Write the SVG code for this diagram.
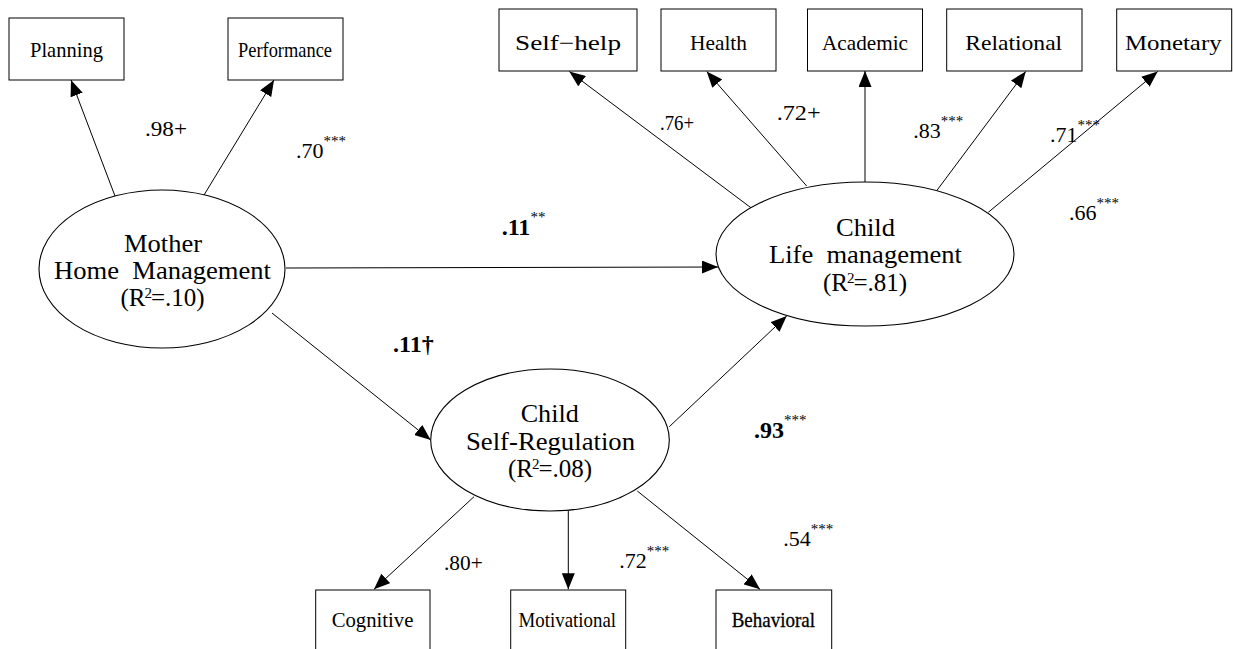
<svg xmlns="http://www.w3.org/2000/svg" width="1233" height="649" viewBox="0 0 1233 649" font-family="'Liberation Serif', 'Times New Roman', serif">
<style>
text{font-family:"Liberation Serif","Times New Roman",serif;fill:#000}
.box{fill:#fff;stroke:#000;stroke-width:1}
.ell{fill:#fff;stroke:#000;stroke-width:1.1}
.bl{font-size:21px;text-anchor:middle}
.el{font-size:25px;text-anchor:middle}
.co{font-size:22px}
.b{font-weight:bold;font-size:24px}
.st{font-size:15px;font-weight:normal}
.conn line{stroke:#000;stroke-width:1;marker-end:url(#ah)}
</style>
<defs>
<marker id="ah" markerUnits="userSpaceOnUse" markerWidth="16" markerHeight="13" refX="16" refY="6.5" orient="auto">
<path d="M0,0 L16,6.5 L0,13 z" fill="#000"/>
</marker>
</defs>
<rect width="1233" height="649" fill="#fff"/>
<g id="connectors" class="conn">
<line x1="115" y1="196" x2="71" y2="80"/>
<line x1="204" y1="195" x2="274" y2="80"/>
<line x1="751.7" y1="208.3" x2="569.3" y2="71.5"/>
<line x1="806.7" y1="186" x2="706.7" y2="71.5"/>
<line x1="865" y1="182" x2="865" y2="71"/>
<line x1="936.7" y1="190.7" x2="1025.7" y2="71.5"/>
<line x1="988.3" y1="212.3" x2="1157.7" y2="71.5"/>
<line x1="286" y1="268" x2="718" y2="267"/>
<line x1="272" y1="313" x2="430.7" y2="440"/>
<line x1="669.3" y1="426.7" x2="786.7" y2="316"/>
<line x1="474" y1="496.7" x2="374" y2="589.3"/>
<line x1="568.3" y1="510.7" x2="568.3" y2="589.3"/>
<line x1="637.3" y1="491" x2="760" y2="589.3"/>
</g>
<g id="planning"><rect class="box" x="9" y="18" width="115" height="62"/><text class="bl" x="66.5" y="57" font-size="22" textLength="73" lengthAdjust="spacingAndGlyphs">Planning</text></g>
<g id="performance"><rect class="box" x="228" y="18" width="115" height="62"/><text class="bl" x="285" y="57" font-size="20" textLength="94" lengthAdjust="spacingAndGlyphs">Performance</text></g>
<g id="selfhelp"><rect class="box" x="499" y="9" width="138" height="62"/><text class="bl" x="568" y="50" font-size="24" textLength="106" lengthAdjust="spacingAndGlyphs">Self−help</text></g>
<g id="health"><rect class="box" x="661" y="9" width="115" height="62"/><text class="bl" x="718.5" y="50" textLength="57" lengthAdjust="spacingAndGlyphs">Health</text></g>
<g id="academic"><rect class="box" x="807.5" y="9" width="115" height="62"/><text class="bl" x="865" y="50" textLength="86" lengthAdjust="spacingAndGlyphs">Academic</text></g>
<g id="relational"><rect class="box" x="946.7" y="9" width="135.3" height="62"/><text class="bl" x="1013.7" y="50" font-size="23" textLength="97" lengthAdjust="spacingAndGlyphs">Relational</text></g>
<g id="monetary"><rect class="box" x="1116.7" y="9" width="115" height="62"/><text class="bl" x="1173.3" y="50" font-size="24" textLength="96.7" lengthAdjust="spacingAndGlyphs">Monetary</text></g>
<g id="mother"><ellipse class="ell" cx="162" cy="269" rx="123" ry="79"/>
<text class="el" x="163" y="252" textLength="78" lengthAdjust="spacingAndGlyphs">Mother</text>
<text class="el" x="162.5" y="279" textLength="217" lengthAdjust="spacingAndGlyphs" xml:space="preserve">Home  Management</text>
<text class="el" x="162.5" y="306">(R<tspan font-size="15" dy="-8" dx="-1">2</tspan><tspan dy="8" dx="-1">=.10)</tspan></text></g>
<g id="lifemgmt"><ellipse class="ell" cx="865" cy="254" rx="149" ry="72"/>
<text class="el" x="865.5" y="236" textLength="59" lengthAdjust="spacingAndGlyphs">Child</text>
<text class="el" x="865.5" y="263" textLength="193" lengthAdjust="spacingAndGlyphs" xml:space="preserve">Life  management</text>
<text class="el" x="865" y="291">(R<tspan font-size="15" dy="-8" dx="-1">2</tspan><tspan dy="8" dx="-1">=.81)</tspan></text></g>
<g id="selfreg"><ellipse class="ell" cx="550" cy="440" rx="119.3" ry="71"/>
<text class="el" x="549.7" y="422" textLength="58" lengthAdjust="spacingAndGlyphs">Child</text>
<text class="el" x="550.5" y="450" textLength="169" lengthAdjust="spacingAndGlyphs">Self-Regulation</text>
<text class="el" x="550" y="477">(R<tspan font-size="15" dy="-8" dx="-1">2</tspan><tspan dy="8" dx="-1">=.08)</tspan></text></g>
<g id="cognitive"><rect class="box" x="315.7" y="590" width="114.3" height="70"/><text class="bl" x="372.5" y="627" textLength="81.7" lengthAdjust="spacingAndGlyphs">Cognitive</text></g>
<g id="motivational"><rect class="box" x="510.7" y="590" width="115" height="70"/><text class="bl" x="567.3" y="627" textLength="97.4" lengthAdjust="spacingAndGlyphs">Motivational</text></g>
<g id="behavioral"><rect class="box" x="716" y="590" width="115.7" height="70"/><text class="bl" x="773.3" y="627" textLength="83.3" lengthAdjust="spacingAndGlyphs" style="stroke:#000;stroke-width:0.3">Behavioral</text></g>
<g id="labels">
<text class="co" x="145" y="136" textLength="42" lengthAdjust="spacingAndGlyphs">.98+</text>
<text class="co" x="296" y="158">.70<tspan class="st" dy="-12">***</tspan></text>
<text class="co" x="660" y="130" font-size="20" textLength="34" lengthAdjust="spacingAndGlyphs">.76+</text>
<text class="co" x="776.7" y="120" textLength="44" lengthAdjust="spacingAndGlyphs">.72+</text>
<text class="co" x="913.3" y="138.3">.83<tspan class="st" dy="-12">***</tspan></text>
<text class="co" x="1050" y="141.7">.71<tspan class="st" dy="-12">***</tspan></text>
<text class="co" x="1069" y="220">.66<tspan class="st" dy="-12">***</tspan></text>
<text class="b" x="501.7" y="235">.11<tspan class="st" dy="-13">**</tspan></text>
<text class="b" x="393" y="352">.11†</text>
<text class="b" x="754" y="438">.93<tspan class="st" dy="-13">***</tspan></text>
<text class="co" x="444" y="570" font-size="20" textLength="38.7" lengthAdjust="spacingAndGlyphs">.80+</text>
<text class="co" x="619.3" y="568.3">.72<tspan class="st" dy="-12">***</tspan></text>
<text class="co" x="783.3" y="545.7">.54<tspan class="st" dy="-12">***</tspan></text>
</g>
</svg>
